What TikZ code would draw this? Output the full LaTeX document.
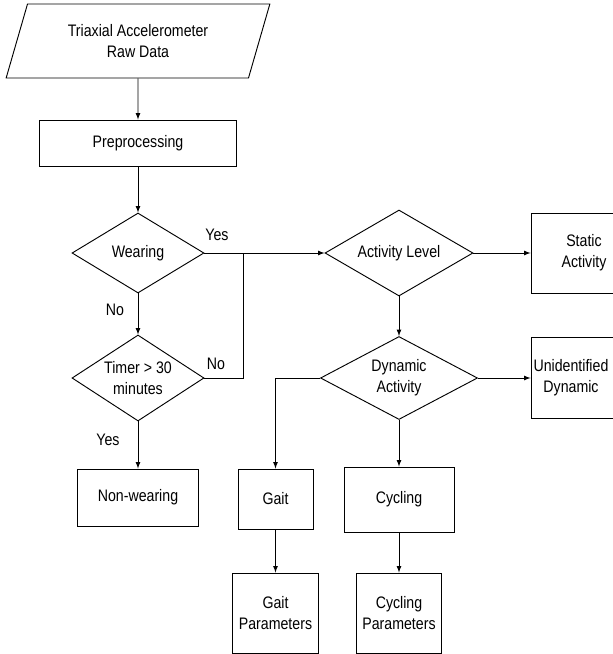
\documentclass[tikz,border=0pt]{standalone}
\usepackage{fontspec}
\setmainfont[FakeStretch=0.85]{Liberation Sans}
\usetikzlibrary{shapes,arrows}

\begin{document}
\begin{tikzpicture}[x=0.75pt,y=-0.75pt,
  every node/.style={font=\fontsize{12.5}{16}\selectfont,align=center,inner sep=0pt},
  box/.style={draw,rectangle,line width=0.7pt},
  decide/.style={draw,diamond,aspect=1.6,line width=0.7pt},
  io/.style={draw,trapezium,trapezium left angle=68,trapezium right angle=112,
    trapezium stretches=true,line width=0.7pt},
  line/.style={line width=0.7pt},
  arr/.style={line,-latex}]
\useasboundingbox (0,0) rectangle (613,654);

\node[io,minimum width=198pt,minimum height=55.5pt] (raw) at (138,41) {Triaxial Accelerometer\\Raw Data};
\node[box,minimum width=147.75pt,minimum height=34.5pt] (prep) at (138,143) {Preprocessing};
\node[decide,minimum width=99pt,minimum height=60pt] (wear) at (138,253) {Wearing};
\node[decide,minimum width=99pt,minimum height=64.5pt] (timer) at (138,378) {Timer > 30\\minutes};
\node[box,minimum width=90.75pt,minimum height=42.75pt] (nonwear) at (138,497.5) {Non-wearing};

\node[decide,minimum width=111pt,minimum height=64.5pt] (actlvl) at (399,253) {Activity Level};
\node[box,minimum width=79.5pt,minimum height=60pt] (static) at (584,253) {Static\\Activity};
\node[decide,minimum width=117.75pt,minimum height=62.25pt] (dyn) at (399,378) {Dynamic\\Activity};
\node[box,minimum width=79.5pt,minimum height=60.75pt,
  label={[xshift=-9.75pt,align=center]center:Unidentified\\Dynamic}] (unid) at (584,378) {};

\node[box,minimum width=56.25pt,minimum height=45pt] (gait) at (275.5,499) {Gait};
\node[box,minimum width=82.5pt,minimum height=48.75pt] (cyc) at (399,499.5) {Cycling};
\node[box,minimum width=64.5pt,minimum height=60pt] (gaitpar) at (275.5,613) {Gait\\Parameters};
\node[box,minimum width=63.75pt,minimum height=60pt] (cycpar) at (399,613) {Cycling\\Parameters};

\node (yesA) at (217,235) {Yes};
\node (noA) at (115,310) {No};
\node (noB) at (216,364) {No};
\node (yesB) at (108,440) {Yes};

\coordinate (jn) at (243,253);

\draw[arr] (raw.south) -- (prep.north);
\draw[arr] (prep.south) -- (wear.north);
\draw[arr] (wear.south) -- (timer.north);
\draw[arr] (timer.south) -- (nonwear.north);
\draw[arr] (wear.east) -- (actlvl.west);
\draw[line] (timer.east) -| (jn);

\draw[arr] (actlvl.east) -- (static.west);
\draw[arr] (actlvl.south) -- (dyn.north);
\draw[arr] (dyn.east) -- (unid.west);
\draw[arr] (dyn.west) -| (gait.north);
\draw[arr] (dyn.south) -- (cyc.north);
\draw[arr] (gait.south) -- (gaitpar.north);
\draw[arr] (cyc.south) -- (cycpar.north);
\end{tikzpicture}
\end{document}
